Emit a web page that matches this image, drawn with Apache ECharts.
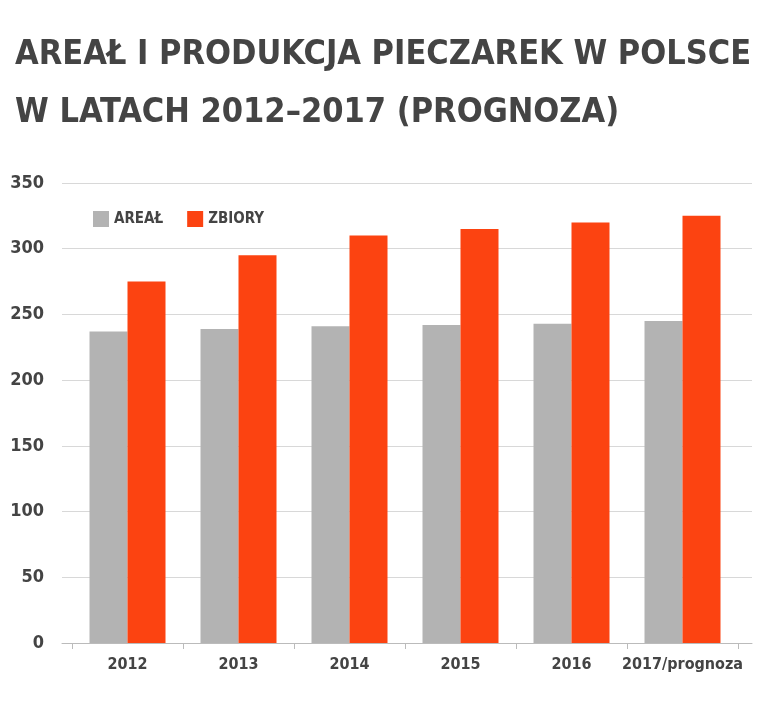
<!DOCTYPE html>
<html><head><meta charset="utf-8">
<script src="https://cdn.jsdelivr.net/npm/echarts@6/dist/echarts.min.js"></script>
<style>body{margin:0;background:#fff}#c{width:765px;height:714px}</style>
</head><body><div id="c"></div>
<script>
const categories = ['2012','2013','2014','2015','2016','2017/prognoza'];
const areal = [237, 239, 241, 242, 243, 245];
const zbiory = [275, 295, 310, 315, 320, 325];
const yTicks = [0, 50, 100, 150, 200, 250, 300, 350];
const F = '"DejaVu Sans Condensed", "Liberation Sans Narrow", sans-serif';
const chart = echarts.init(document.getElementById('c'));
chart.setOption({
  animation: false,
  title: {
    text: 'AREAŁ I PRODUKCJA PIECZAREK W POLSCE\nW LATACH 2012–2017 (PROGNOZA)',
    left: 10, top: 21,
    textStyle: {fontFamily: F, fontWeight: 'bold', fontSize: 34, lineHeight: 58, color: '#444'}
  },
  legend: {
    left: 88, top: 206, itemWidth: 16, itemHeight: 16, itemGap: 24, icon: 'rect',
    textStyle: {fontFamily: F, fontWeight: 'bold', fontSize: 15, color: '#444'},
    data: ['AREAŁ', 'ZBIORY']
  },
  grid: [
    {left: 72, right: 27, top: 183, bottom: 71},
    {left: 62, right: 13, top: 183, bottom: 71}
  ],
  xAxis: [{
    type: 'category', data: categories, gridIndex: 0, z: 5,
    axisLine: {lineStyle: {color: '#bbb'}},
    axisTick: {show: true, length: 6, lineStyle: {color: '#bbb'}},
    axisLabel: {interval: 0, fontFamily: F, fontWeight: 'bold', fontSize: 16, color: '#444', margin: 14}
  }, {
    type: 'value', gridIndex: 1, min: 0, max: 1,
    axisLine: {show: true, lineStyle: {color: '#bbb'}},
    axisTick: {show: false}, axisLabel: {show: false}, splitLine: {show: false}
  }],
  yAxis: [{
    type: 'value', min: 0, max: 350, interval: 50, gridIndex: 0,
    axisLine: {show: false}, axisTick: {show: false}, splitLine: {show: false},
    axisLabel: {fontFamily: F, fontWeight: 'bold', fontSize: 18, color: '#444', margin: 28}
  }, {
    type: 'value', min: 0, max: 350, interval: 50, gridIndex: 1,
    axisLine: {show: false}, axisTick: {show: false}, axisLabel: {show: false},
    splitLine: {lineStyle: {color: '#d8d8d8'}}
  }],
  series: [
    {name: 'AREAŁ', type: 'bar', data: areal, barWidth: 38, barGap: '0%', itemStyle: {color: '#b3b3b3'}},
    {name: 'ZBIORY', type: 'bar', data: zbiory, barWidth: 38, itemStyle: {color: '#fc4311'}}
  ]
});
</script></body></html>
